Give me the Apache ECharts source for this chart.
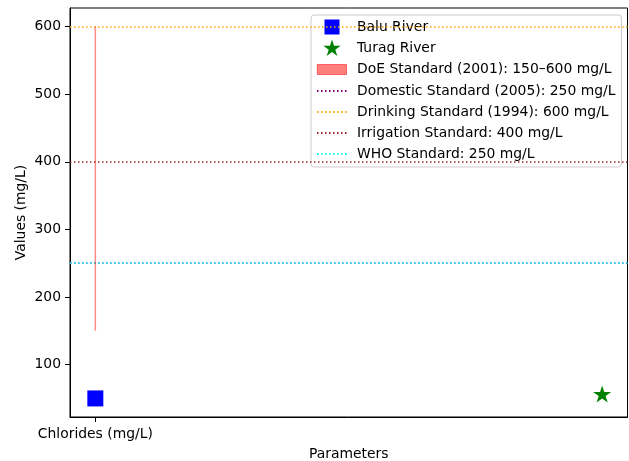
<!DOCTYPE html>
<html><head><meta charset="utf-8">
<script src="https://cdn.jsdelivr.net/npm/echarts@6/dist/echarts.min.js"></script>
<style>html,body{margin:0;padding:0;background:#fff}#c{width:629px;height:461px}</style>
</head><body><div id="c"></div>
<script>
// ---- data ----
const categories = ['Chlorides (mg/L)'];
const categoryPositions = [0];
const baluPositions = [0];
const baluValues = [50];
const turagPositions = [1];
const turagValues = [55];
const doeRange = [150, 600];
const standardNames = [
  'Domestic Standard (2005): 250 mg/L',
  'Drinking Standard (1994): 600 mg/L',
  'Irrigation Standard: 400 mg/L',
  'WHO Standard: 250 mg/L'
];
const standardValues = [250, 600, 400, 250];
const yTicks = [100, 200, 300, 400, 500, 600];

// ---- styles ----
const standardColors = ['purple', 'orange', 'brown', 'cyan'];
const FONT = 'DejaVu Sans';
const FS = 13.9;

// matplotlib-like autoscale margins (5%)
const allX = baluPositions.concat(turagPositions, categoryPositions);
const allY = baluValues.concat(turagValues, doeRange);
const xLo = Math.min(...allX), xHi = Math.max(...allX);
const yLo = Math.min(...allY), yHi = Math.max(...allY);
const xPad = (xHi - xLo) * 0.05, yPad = (yHi - yLo) * 0.05;

function starPts(cx, cy, R) {
  const pts = [];
  for (let i = 0; i < 10; i++) {
    const r = i % 2 === 0 ? R : R * 0.381966;
    const a = Math.PI / 2 + i * Math.PI / 5;
    pts.push([cx + r * Math.cos(a), cy - r * Math.sin(a)]);
  }
  return 'M' + pts.map(p => p[0].toFixed(3) + ',' + p[1].toFixed(3)).join('L') + 'Z';
}
const STAR = 'path://' + starPts(0, 0, 1);
// legend icon box is 30 x 17; tiny specks in the corners pin the path's bounds to the box
const SPECKS = 'M0,0h0.01v0.01h-0.01z M29.99,16.99h0.01v0.01h-0.01z ';
const ICON_SQUARE = 'path://' + SPECKS + 'M7.5,1h15v15h-15z';
const ICON_STAR = 'path://' + SPECKS + starPts(15, 9.1, 9.1);
const ICON_PATCH = 'path://' + SPECKS + 'M0.3,3.5h29.2v10h-29.2z';

const chart = echarts.init(document.getElementById('c'), null, {renderer: 'canvas'});

const series = [
  {
    name: 'Balu River', type: 'scatter', symbol: 'rect', symbolSize: 16,
    itemStyle: {color: 'blue', opacity: 1}, z: 10,
    data: baluPositions.map((x, i) => [x, baluValues[i]])
  },
  {
    name: 'Turag River', type: 'scatter', symbol: STAR, symbolSize: 18, symbolKeepAspect: true,
    symbolOffset: [0, -1],
    itemStyle: {color: 'green', opacity: 1}, z: 10,
    data: turagPositions.map((x, i) => [x, turagValues[i]])
  },
  {
    name: 'DoE Standard (2001): 150\u2013600 mg/L', type: 'custom', z: 5,
    itemStyle: {color: 'rgba(255,0,0,0.5)'},
    renderItem: function (params, api) {
      const p0 = api.coord([api.value(0), api.value(1)]);
      const p1 = api.coord([api.value(0), api.value(2)]);
      return {type: 'line', shape: {x1: p0[0], y1: p0[1], x2: p1[0], y2: p1[1]},
        style: {stroke: 'rgba(255,0,0,0.45)', lineWidth: 1.5}};
    },
    data: categoryPositions.map(x => [x, doeRange[0], doeRange[1]])
  }
];
standardNames.forEach((n, i) => {
  series.push({
    name: n, type: 'line', symbol: 'none', data: [], z: 4,
    itemStyle: {color: standardColors[i]},
    lineStyle: {color: standardColors[i], type: [1.5, 2.5], width: 1.5},
    markLine: {
      silent: true, symbol: 'none', label: {show: false}, animation: false,
      lineStyle: {color: standardColors[i], type: [1.5, 2.5], width: 1.5},
      data: [{yAxis: standardValues[i]}]
    }
  });
});

chart.setOption({
  animation: false,
  backgroundColor: '#fff',
  textStyle: {fontFamily: FONT},
  grid: {left: 70, right: 1.5, top: 8, bottom: 44, outerBoundsMode: 'none', containLabel: false,
    show: true, borderColor: '#000', borderWidth: 1, backgroundColor: 'transparent'},
  xAxis: {
    type: 'value', min: xLo - xPad, max: xHi + xPad,
    axisLine: {show: true, onZero: false, lineStyle: {color: '#000', width: 1}},
    axisTick: {show: true, length: 5, lineStyle: {color: '#000'}, customValues: categoryPositions},
    axisLabel: {color: '#000', fontSize: FS, fontFamily: FONT, margin: 10, customValues: categoryPositions,
      formatter: v => categories[categoryPositions.indexOf(v)] || ''},
    splitLine: {show: false},
    name: 'Parameters', nameLocation: 'middle', nameGap: 30, nameMoveOverlap: false,
    nameTextStyle: {color: '#000', fontSize: FS, fontFamily: FONT}
  },
  yAxis: {
    type: 'value', min: yLo - yPad, max: yHi + yPad,
    axisLine: {show: true, onZero: false, lineStyle: {color: '#000', width: 1}},
    axisTick: {show: true, length: 5, lineStyle: {color: '#000'}, customValues: yTicks},
    axisLabel: {color: '#000', fontSize: FS, fontFamily: FONT, margin: 9, customValues: yTicks},
    splitLine: {show: false},
    name: 'Values (mg/L)', nameLocation: 'middle', nameGap: 42, nameMoveOverlap: false,
    nameTextStyle: {color: '#000', fontSize: FS, fontFamily: FONT}
  },
  legend: {
    orient: 'vertical', left: 311, top: 15,
    padding: [3.5, 6, 4.5, 5],
    itemWidth: 30, itemHeight: 17, itemGap: 4,
    backgroundColor: 'rgba(255,255,255,0.85)', borderColor: '#cccccc', borderWidth: 1, borderRadius: 3,
    textStyle: {color: '#000', fontSize: FS, fontFamily: FONT, lineHeight: 17, padding: [0, 0, 0, 5]},
    data: [
      {name: 'Balu River', icon: ICON_SQUARE},
      {name: 'Turag River', icon: ICON_STAR},
      {name: 'DoE Standard (2001): 150\u2013600 mg/L', icon: ICON_PATCH,
        itemStyle: {color: 'rgba(255,0,0,0.5)', borderColor: 'rgba(255,0,0,0.5)', borderWidth: 1}}
    ].concat(standardNames.map(n => ({name: n, itemStyle: {opacity: 0}})))
  },
  series: series
});
</script>
</body></html>
